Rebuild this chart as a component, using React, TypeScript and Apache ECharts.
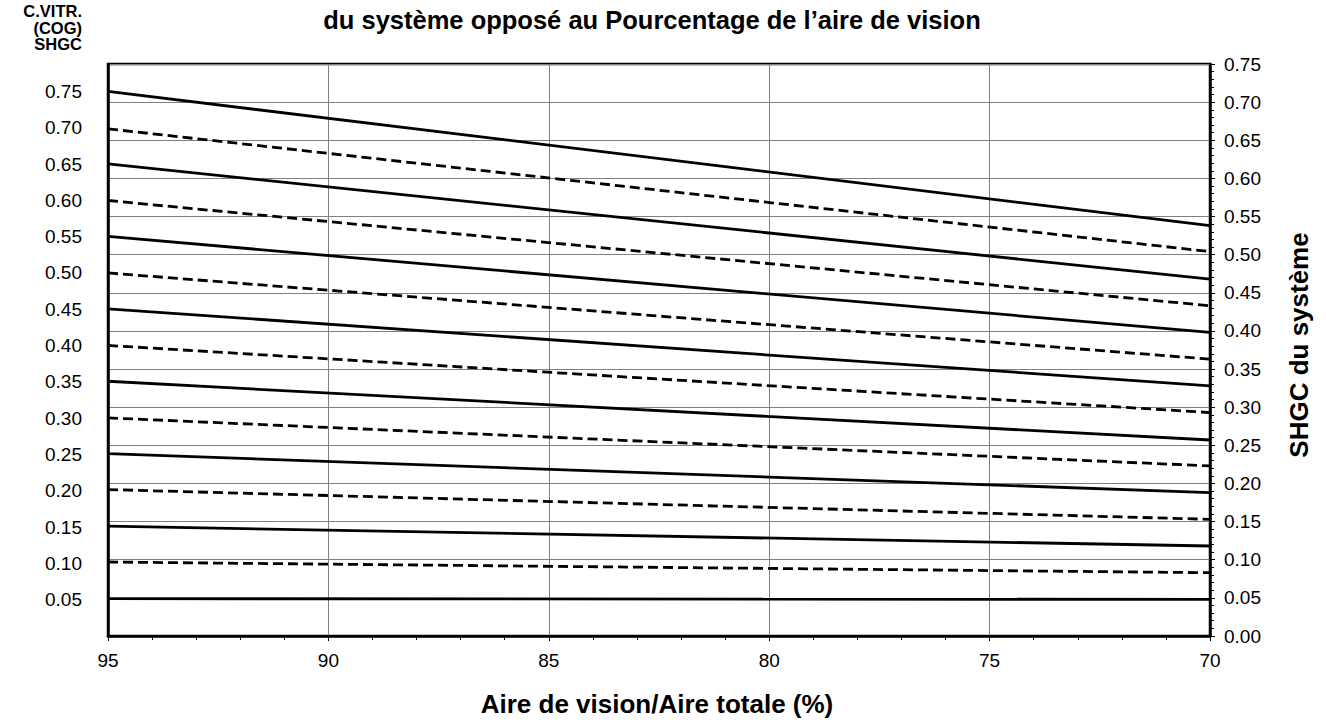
import React, { useEffect, useRef } from "react";
import * as echarts from "echarts";

const xStart = 95;
const xEnd = 70;
const cogValues = [0.75, 0.7, 0.65, 0.6, 0.55, 0.5, 0.45, 0.4, 0.35, 0.3, 0.25, 0.2, 0.15, 0.1, 0.05];
const systemAt95 = [0.714, 0.665, 0.619, 0.571, 0.524, 0.476, 0.429, 0.381, 0.334, 0.286, 0.239, 0.192, 0.144, 0.097, 0.049];
const systemAt70 = [0.538, 0.504, 0.468, 0.433, 0.398, 0.363, 0.328, 0.293, 0.257, 0.223, 0.188, 0.153, 0.118, 0.083, 0.048];
const leftScaleFactor = 0.952;

const titleText = "du système opposé au Pourcentage de l’aire de vision";
const xTitle = "Aire de vision/Aire totale (%)";
const rightTitle = "SHGC du système";
const leftTitle = "C.VITR.\n(COG)\nSHGC";

const FONT = "Liberation Sans, Arial, sans-serif";

export default function App() {
  const ref = useRef<HTMLDivElement>(null);
  useEffect(() => {
    if (!ref.current) return;
    const chart = echarts.init(ref.current, null, { renderer: "svg" });
    const series = cogValues.map((c, i) => ({
      name: c.toFixed(2),
      type: "line",
      yAxisIndex: 1,
      symbol: "none",
      silent: true,
      lineStyle: {
        color: "#000",
        width: 2.8,
        type: i % 2 === 0 ? "solid" : [10, 5],
      },
      data: [
        [xStart, systemAt95[i]],
        [xEnd, systemAt70[i]],
      ],
    }));
    chart.setOption({
      animation: false,
      textStyle: { fontFamily: FONT },
      graphic: [
        {
          type: "text",
          x: 652,
          y: 20,
          style: {
            text: titleText,
            fontFamily: FONT,
            fontWeight: "bold",
            fontSize: 25.5,
            fill: "#000",
            textAlign: "center",
            textVerticalAlign: "middle",
          },
        },
        {
          type: "text",
          x: 82,
          y: 3,
          style: {
            text: leftTitle,
            fontFamily: FONT,
            fontWeight: "bold",
            fontSize: 16.5,
            lineHeight: 16.5,
            fill: "#000",
            textAlign: "right",
            textVerticalAlign: "top",
          },
        },
        {
          type: "text",
          x: 657,
          y: 704,
          style: {
            text: xTitle,
            fontFamily: FONT,
            fontWeight: "bold",
            fontSize: 26,
            fill: "#000",
            textAlign: "center",
            textVerticalAlign: "middle",
          },
        },
        {
          type: "text",
          x: 1299,
          y: 345,
          rotation: Math.PI / 2,
          style: {
            text: rightTitle,
            fontFamily: FONT,
            fontWeight: "bold",
            fontSize: 26,
            fill: "#000",
            textAlign: "center",
            textVerticalAlign: "middle",
          },
        },
      ],
      grid: {
        left: 108,
        right: 116,
        top: 64,
        bottom: 90,
        show: true,
        borderColor: "#000",
        borderWidth: 2.5,
      },
      xAxis: {
        type: "value",
        min: 70,
        max: 95,
        interval: 5,
        inverse: true,
        axisLine: { show: true, lineStyle: { color: "#000", width: 2.5 } },
        axisTick: { show: true, length: 5, lineStyle: { color: "#000", width: 1 } },
        minorTick: { show: true, splitNumber: 5, length: 4, lineStyle: { color: "#000", width: 1 } },
        axisLabel: { fontFamily: FONT, fontSize: 19, color: "#000", margin: 15 },
        splitLine: { show: true, lineStyle: { color: "#808080", width: 1 } },
      },
      yAxis: [
        {
          type: "value",
          position: "left",
          min: 0,
          max: 0.75 / leftScaleFactor,
          interval: 0.05,
          axisLine: { show: true, lineStyle: { color: "#000", width: 2.5 } },
          axisTick: { show: false },
          splitLine: { show: false },
          axisLabel: {
            fontFamily: FONT,
            fontSize: 19,
            color: "#000",
            margin: 26,
            showMinLabel: false,
            showMaxLabel: false,
            formatter: (v: number) => (v < 0.01 || v > 0.76 ? "" : v.toFixed(2)),
          },
        },
        {
          type: "value",
          position: "right",
          min: 0,
          max: 0.75,
          interval: 0.05,
          axisLine: { show: true, lineStyle: { color: "#000", width: 2.5 } },
          axisTick: { show: true, length: 5, lineStyle: { color: "#000", width: 1 } },
          minorTick: { show: true, splitNumber: 5, length: 4, lineStyle: { color: "#000", width: 1 } },
          splitLine: { show: true, lineStyle: { color: "#808080", width: 1 } },
          axisLabel: {
            fontFamily: FONT,
            fontSize: 19,
            color: "#000",
            margin: 14,
            formatter: (v: number) => v.toFixed(2),
          },
        },
      ],
      series,
    });
    return () => chart.dispose();
  }, []);
  return (
    <div
      ref={ref}
      style={{ position: "absolute", left: 0, top: 0, width: 1326, height: 726, background: "#fff" }}
    />
  );
}
